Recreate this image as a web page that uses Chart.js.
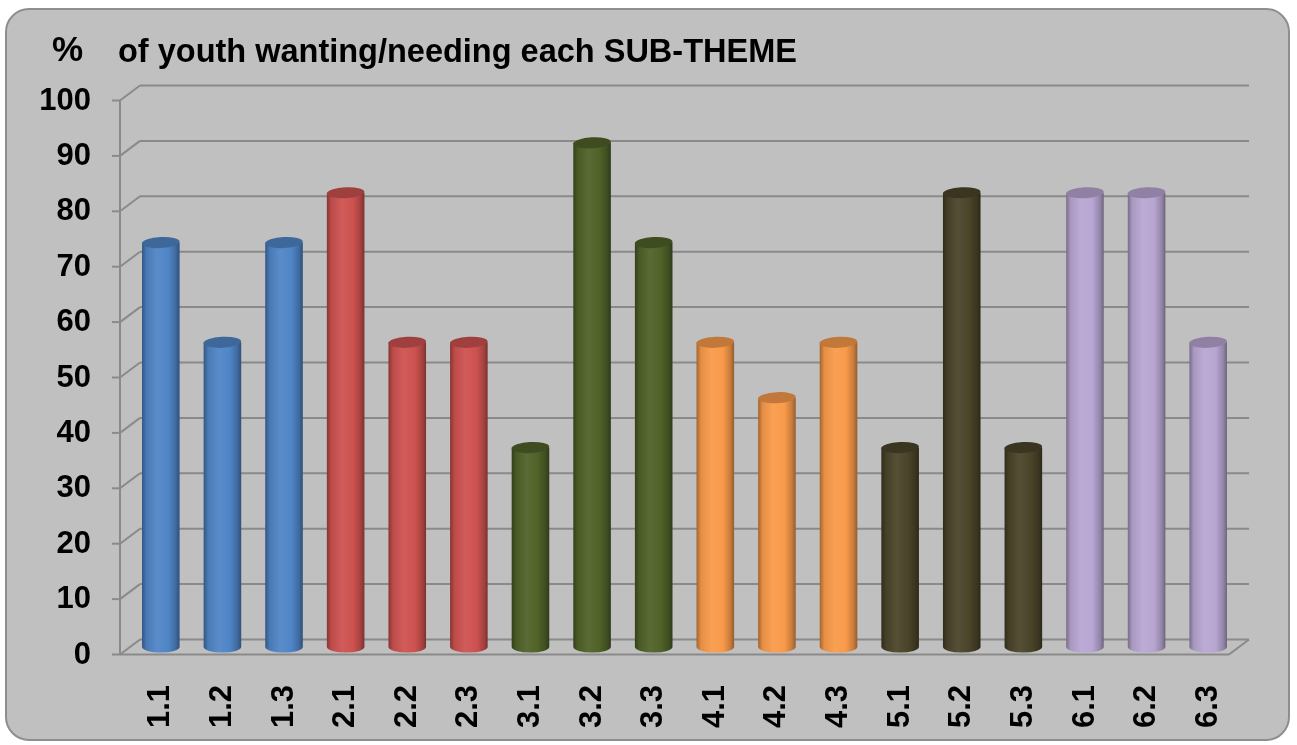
<!DOCTYPE html>
<html lang="en">
<head>
<meta charset="UTF-8">
<title>Youth sub-themes</title>
<script src="https://cdn.jsdelivr.net/npm/chart.js"></script>
<style>
  html, body { margin: 0; padding: 0; background: #fff; }
  .card { position: absolute; left: 5px; top: 8px; width: 1281px; height: 729px;
          background: #c0c0c0; border: 2px solid #8e8e8e; border-radius: 24px; }
  #chart { position: absolute; left: 0; top: 0; }
</style>
</head>
<body>
<div class="card"></div>
<canvas id="chart" width="1297" height="745"></canvas>

<script>
// data
const labels = ['1.1', '1.2', '1.3', '2.1', '2.2', '2.3', '3.1', '3.2', '3.3',
                '4.1', '4.2', '4.3', '5.1', '5.2', '5.3', '6.1', '6.2', '6.3'];
const values = [73, 55, 73, 82, 55, 55, 36, 91, 73, 55, 45, 55, 36, 82, 36, 82, 82, 55];
const yTicks = [0, 10, 20, 30, 40, 50, 60, 70, 80, 90, 100];
const groupColors = ['#4f85c6', '#cd524f', '#4f6228', '#f99a4a', '#4a4429', '#b8a6d2'];

const FONT = '"Liberation Sans", Arial, sans-serif';
const DX = 10, DY = 7.5;   // half of the 3D depth offset

function shade(hex, f) {
  const n = parseInt(hex.slice(1), 16);
  let r = n >> 16, g = (n >> 8) & 255, b = n & 255;
  const t = f < 0 ? 0 : 255, p = Math.abs(f);
  r = Math.round(r + (t - r) * p);
  g = Math.round(g + (t - g) * p);
  b = Math.round(b + (t - b) * p);
  return `rgb(${r},${g},${b})`;
}
function barColor(i) { return groupColors[parseInt(labels[i]) - 1]; }
function cylGradient(ctx, x0, x1, c) {
  const g = ctx.createLinearGradient(x0, 0, x1, 0);
  g.addColorStop(0, shade(c, -0.35));
  g.addColorStop(0.12, shade(c, -0.08));
  g.addColorStop(0.4, shade(c, 0.06));
  g.addColorStop(0.7, c);
  g.addColorStop(0.9, shade(c, -0.2));
  g.addColorStop(1, shade(c, -0.4));
  return g;
}

function line(ctx, x0, y0, x1, y1) {
  ctx.beginPath(); ctx.moveTo(x0, y0); ctx.lineTo(x1, y1); ctx.stroke();
}

// back wall, side wall and floor of the 3D box
const framePlugin = {
  id: 'frame',
  beforeDatasetsDraw(chart) {
    const { ctx, chartArea: a, scales: { y } } = chart;
    const fl = a.left - DX, fr = a.right - DX, bl = a.left + DX, br = a.right + DX;
    ctx.save();
    ctx.strokeStyle = '#8a8a8a';
    ctx.lineWidth = 2;
    yTicks.forEach(v => {
      const py = y.getPixelForValue(v);
      line(ctx, bl, py - DY, br, py - DY);
      line(ctx, fl, py + DY, bl, py - DY);
      line(ctx, fl - 8, py + DY, fl, py + DY);
    });
    const p0 = y.getPixelForValue(0);
    line(ctx, fl, y.getPixelForValue(100) + DY, fl, p0 + DY);
    line(ctx, fl, p0 + DY, fr, p0 + DY);
    line(ctx, fr, p0 + DY, br, p0 - DY);
    ctx.restore();
  },
  afterDatasetsDraw(chart) {
    const ctx = chart.ctx;
    chart.getDatasetMeta(0).data.forEach((bar, i) => {
      const { x, y, base, width } = bar.getProps(['x', 'y', 'base', 'width'], true);
      const rx = width / 2, ry = 5.5, c = barColor(i);
      ctx.save();
      ctx.fillStyle = cylGradient(ctx, x - rx, x + rx, c);
      ctx.beginPath(); ctx.ellipse(x, base, rx, ry, 0, 0, Math.PI); ctx.fill();
      ctx.fillStyle = shade(c, -0.22);
      ctx.beginPath(); ctx.ellipse(x, y, rx, ry, -0.05, 0, 2 * Math.PI); ctx.fill();
      ctx.restore();
    });
  },
  afterDraw(chart) {
    const ctx = chart.ctx;
    ctx.save();
    ctx.fillStyle = '#000';
    ctx.textBaseline = 'alphabetic';
    ctx.font = 'bold 35px ' + FONT;
    ctx.fillText('%', 52, 61);
    ctx.font = 'bold 32.5px ' + FONT;
    ctx.fillText('of youth wanting/needing each SUB-THEME', 118, 62);
    ctx.restore();
  }
};

new Chart(document.getElementById('chart'), {
  type: 'bar',
  data: {
    labels: labels,
    datasets: [{
      data: values,
      barPercentage: 0.61,
      categoryPercentage: 1,
      backgroundColor: (context) => {
        const chart = context.chart, c = barColor(context.dataIndex);
        const xs = chart.scales.x;
        if (!chart.chartArea || !xs) return c;
        const x = xs.getPixelForValue(context.dataIndex);
        const half = xs.width / labels.length * 0.61 / 2;
        return cylGradient(chart.ctx, x - half, x + half, c);
      }
    }]
  },
  options: {
    responsive: false,
    animation: false,
    devicePixelRatio: 1,
    layout: { padding: { left: 0, right: 58, top: 93, bottom: 0 } },
    plugins: { legend: { display: false }, tooltip: { enabled: false } },
    scales: {
      x: {
        grid: { display: false, drawTicks: false },
        border: { display: false },
        afterFit: s => { s.height = 98; },
        ticks: {
          autoSkip: false, minRotation: 90, maxRotation: 90, padding: 38,
          color: '#000', font: { family: FONT, size: 31, weight: 'bold' }
        }
      },
      y: {
        min: 0, max: 100,
        grid: { display: false, drawTicks: false },
        border: { display: false },
        afterFit: s => { s.width = 130; },
        ticks: {
          stepSize: 10, padding: 39, labelOffset: 8,
          color: '#000', font: { family: FONT, size: 31, weight: 'bold' }
        }
      }
    }
  },
  plugins: [framePlugin]
});
</script>
</body>
</html>
